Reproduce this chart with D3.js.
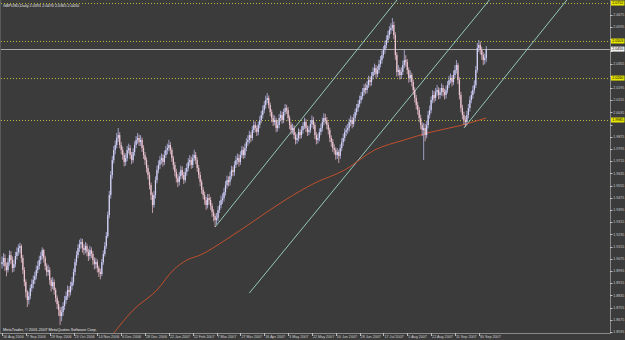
<!DOCTYPE html>
<html><head><meta charset="utf-8">
<script src="https://cdn.jsdelivr.net/npm/d3@7/dist/d3.min.js"></script>
<style>html,body{margin:0;padding:0;background:#3b3b3b;}svg{display:block}</style>
</head><body>
<svg id="chart" width="625" height="340"></svg>
<script>
const symbol = "GBPUSD,Daily";
const copyright = "MetaTrader, \u00a9 2001-2007 MetaQuotes Software Corp.";

const closes = [
1.9053,1.9080,1.9027,1.9001,1.9053,1.9099,1.9066,1.9014,1.9040,1.9093,1.9119,1.9145,1.9158,
1.9080,1.9001,1.8922,1.8856,1.8804,1.8830,1.8883,1.8909,
1.8935,1.8961,1.9001,1.9027,1.9066,1.9093,1.9132,
1.9080,1.9027,1.8988,1.9001,1.8935,1.8896,1.8922,1.8870,1.8817,1.8778,1.8738,1.8699,1.8725,
1.8765,1.8804,1.8830,1.8870,1.8856,1.8896,1.8922,
1.8988,1.9053,1.9099,1.9145,1.9171,1.9185,
1.9145,1.9132,1.9158,1.9119,1.9093,1.9132,1.9106,1.9066,1.9040,1.9053,1.9014,1.8988,1.8975,
1.9053,1.9106,1.9158,1.9224,1.9362,1.9493,1.9624,1.9722,1.9788,1.9821,1.9867,1.9886,
1.9821,1.9788,1.9755,1.9709,1.9735,1.9788,1.9801,1.9755,1.9722,1.9775,1.9821,1.9854,1.9867,1.9840,
1.9854,1.9801,1.9755,1.9722,1.9670,1.9624,1.9558,1.9493,1.9427,
1.9493,1.9591,1.9657,1.9690,1.9722,1.9735,1.9709,1.9755,1.9788,1.9801,1.9821,
1.9788,1.9735,1.9690,1.9644,1.9604,1.9578,1.9617,1.9657,1.9624,1.9591,1.9644,1.9670,1.9709,1.9722,1.9690,1.9735,1.9755,
1.9722,1.9670,1.9624,1.9578,1.9526,1.9493,1.9460,1.9427,1.9473,1.9460,1.9421,1.9381,1.9355,1.9329,1.9342,
1.9394,1.9427,1.9460,1.9473,1.9512,1.9558,1.9591,1.9578,1.9617,1.9657,1.9644,1.9690,1.9722,1.9735,1.9709,1.9755,
1.9788,1.9755,1.9801,1.9840,1.9854,1.9886,1.9867,1.9919,1.9952,1.9932,1.9906,1.9952,1.9985,2.0018,2.0050,2.0083,2.0116,2.0129,
2.0083,2.0037,1.9998,1.9972,1.9985,1.9932,1.9952,1.9998,2.0018,1.9985,2.0037,2.0063,2.0050,1.9998,1.9952,1.9919,1.9932,1.9886,1.9854,1.9867,1.9906,1.9886,
1.9919,1.9945,1.9972,1.9932,1.9906,1.9919,1.9959,1.9985,1.9952,1.9886,1.9854,1.9867,1.9906,1.9932,1.9972,1.9998,1.9985,1.9952,1.9919,1.9867,1.9840,1.9801,1.9788,1.9755,1.9775,1.9749,
1.9801,1.9840,1.9867,1.9906,1.9919,1.9932,1.9972,1.9985,1.9959,1.9998,2.0037,2.0063,2.0090,2.0116,
2.0142,2.0168,2.0195,2.0182,2.0214,2.0247,2.0234,2.0273,2.0300,2.0326,2.0287,2.0313,2.0352,2.0378,
2.0411,2.0444,2.0477,2.0510,2.0542,2.0575,2.0588,2.0608,
2.0542,2.0411,2.0300,2.0313,2.0280,2.0300,2.0346,2.0378,
2.0365,2.0313,2.0260,2.0280,2.0234,2.0182,2.0129,2.0083,2.0050,1.9998,1.9952,1.9919,1.9932,1.9886,
1.9952,2.0018,2.0050,2.0116,2.0149,2.0129,2.0168,2.0182,2.0149,2.0168,
2.0195,2.0168,2.0149,2.0182,2.0214,2.0247,2.0260,2.0234,2.0280,2.0313,2.0346,
2.0247,2.0149,2.0063,2.0018,1.9985,1.9972,
2.0018,2.0063,2.0116,2.0149,2.0182,2.0214,2.0313,2.0457,
2.0477,2.0444,2.0411,2.0378,2.0391,2.0450
];

const opens = [
1.9040,
1.9053,1.9080,1.9027,1.9001,1.9053,1.9099,1.9066,1.9014,1.9040,1.9093,1.9119,1.9145,1.9158,
1.9080,1.9001,1.8922,1.8856,1.8804,1.8830,1.8883,1.8909,
1.8935,1.8961,1.9001,1.9027,1.9066,1.9093,1.9132,
1.9080,1.9027,1.8988,1.9001,1.8935,1.8896,1.8922,1.8870,1.8817,1.8778,1.8738,1.8699,1.8725,
1.8765,1.8804,1.8830,1.8870,1.8856,1.8896,1.8922,
1.8988,1.9053,1.9099,1.9145,1.9171,1.9185,
1.9145,1.9132,1.9158,1.9119,1.9093,1.9132,1.9106,1.9066,1.9040,1.9053,1.9014,1.8988,1.8975,
1.9053,1.9106,1.9158,1.9224,1.9362,1.9493,1.9624,1.9722,1.9788,1.9821,1.9867,1.9886,
1.9821,1.9788,1.9755,1.9709,1.9735,1.9788,1.9801,1.9755,1.9722,1.9775,1.9821,1.9854,1.9867,1.9840,
1.9854,1.9801,1.9755,1.9722,1.9670,1.9624,1.9558,1.9493,1.9427,
1.9493,1.9591,1.9657,1.9690,1.9722,1.9735,1.9709,1.9755,1.9788,1.9801,1.9821,
1.9788,1.9735,1.9690,1.9644,1.9604,1.9578,1.9617,1.9657,1.9624,1.9591,1.9644,1.9670,1.9709,1.9722,1.9690,1.9735,1.9755,
1.9722,1.9670,1.9624,1.9578,1.9526,1.9493,1.9460,1.9427,1.9473,1.9460,1.9421,1.9381,1.9355,1.9329,1.9342,
1.9394,1.9427,1.9460,1.9473,1.9512,1.9558,1.9591,1.9578,1.9617,1.9657,1.9644,1.9690,1.9722,1.9735,1.9709,1.9755,
1.9788,1.9755,1.9801,1.9840,1.9854,1.9886,1.9867,1.9919,1.9952,1.9932,1.9906,1.9952,1.9985,2.0018,2.0050,2.0083,2.0116,2.0129,
2.0083,2.0037,1.9998,1.9972,1.9985,1.9932,1.9952,1.9998,2.0018,1.9985,2.0037,2.0063,2.0050,1.9998,1.9952,1.9919,1.9932,1.9886,1.9854,1.9867,1.9906,1.9886,
1.9919,1.9945,1.9972,1.9932,1.9906,1.9919,1.9959,1.9985,1.9952,1.9886,1.9854,1.9867,1.9906,1.9932,1.9972,1.9998,1.9985,1.9952,1.9919,1.9867,1.9840,1.9801,1.9788,1.9755,1.9775,1.9749,
1.9801,1.9840,1.9867,1.9906,1.9919,1.9932,1.9972,1.9985,1.9959,1.9998,2.0037,2.0063,2.0090,2.0116,
2.0142,2.0168,2.0195,2.0182,2.0214,2.0247,2.0234,2.0273,2.0300,2.0326,2.0287,2.0313,2.0352,2.0378,
2.0411,2.0444,2.0477,2.0510,2.0542,2.0575,2.0588,2.0608,
2.0542,2.0411,2.0300,2.0313,2.0280,2.0300,2.0346,2.0378,
2.0365,2.0313,2.0260,2.0280,2.0234,2.0182,2.0129,2.0083,2.0050,1.9998,1.9952,1.9919,1.9932,1.9886,
1.9952,2.0018,2.0050,2.0116,2.0149,2.0129,2.0168,2.0182,2.0149,2.0168,
2.0195,2.0168,2.0149,2.0182,2.0214,2.0247,2.0260,2.0234,2.0280,2.0313,2.0346,
2.0247,2.0149,2.0063,2.0018,1.9985,1.9972,
2.0018,2.0063,2.0116,2.0149,2.0182,2.0214,2.0313,2.0457,
2.0477,2.0444,2.0411,2.0378,2.0391
];

const highs = [
1.9090,1.9112,1.9105,1.9050,1.9080,1.9130,1.9125,1.9090,1.9070,1.9120,1.9150,1.9170,1.9180,
1.9170,1.9100,1.9020,1.8940,1.8870,1.8860,1.8905,1.8940,
1.8965,1.8990,1.9030,1.9060,1.9095,1.9120,1.9150,
1.9140,1.9095,1.9045,1.9035,1.9020,1.8950,1.8955,1.8940,1.8885,1.8835,1.8800,1.8760,1.8760,
1.8790,1.8830,1.8860,1.8900,1.8895,1.8925,1.8955,
1.9010,1.9075,1.9125,1.9170,1.9200,1.9210,
1.9205,1.9170,1.9185,1.9175,1.9140,1.9160,1.9150,1.9125,1.9085,1.9080,1.9070,1.9030,1.9010,
1.9075,1.9130,1.9185,1.9250,1.9385,1.9520,1.9650,1.9750,1.9815,1.9850,1.9900,1.9932,
1.9905,1.9840,1.9810,1.9770,1.9765,1.9815,1.9830,1.9820,1.9775,1.9800,1.9845,1.9880,1.9900,1.9890,
1.9885,1.9870,1.9820,1.9775,1.9740,1.9690,1.9645,1.9575,1.9510,
1.9520,1.9615,1.9685,1.9720,1.9750,1.9765,1.9760,1.9785,1.9815,1.9830,1.9855,
1.9840,1.9805,1.9750,1.9710,1.9665,1.9630,1.9645,1.9685,1.9680,1.9645,1.9670,1.9700,1.9735,1.9755,1.9745,1.9760,1.9790,
1.9775,1.9740,1.9690,1.9645,1.9595,1.9545,1.9515,1.9480,1.9500,1.9500,1.9480,1.9440,1.9400,1.9370,1.9375,
1.9420,1.9455,1.9490,1.9505,1.9540,1.9585,1.9620,1.9615,1.9645,1.9685,1.9680,1.9715,1.9750,1.9765,1.9760,1.9780,
1.9815,1.9810,1.9830,1.9865,1.9885,1.9915,1.9905,1.9945,1.9980,1.9975,1.9950,1.9975,2.0010,2.0045,2.0080,2.0110,2.0145,2.0162,
2.0145,2.0100,2.0055,2.0020,2.0015,2.0000,1.9980,2.0025,2.0045,2.0040,2.0060,2.0090,2.0085,2.0070,2.0015,1.9970,1.9960,1.9950,1.9905,1.9895,1.9930,1.9925,
1.9945,1.9970,2.0000,1.9990,1.9950,1.9945,1.9985,2.0015,2.0005,1.9970,1.9905,1.9895,1.9930,1.9960,2.0000,2.0030,2.0025,2.0005,1.9970,1.9935,1.9885,1.9860,1.9825,1.9805,1.9800,1.9790,
1.9825,1.9865,1.9895,1.9930,1.9950,1.9960,1.9995,2.0015,2.0005,2.0025,2.0060,2.0090,2.0115,2.0145,
2.0170,2.0195,2.0220,2.0225,2.0240,2.0275,2.0270,2.0300,2.0330,2.0355,2.0345,2.0340,2.0380,2.0405,
2.0440,2.0470,2.0505,2.0540,2.0570,2.0600,2.0620,2.0654,
2.0630,2.0560,2.0430,2.0345,2.0330,2.0330,2.0375,2.0444,
2.0410,2.0385,2.0330,2.0310,2.0295,2.0250,2.0200,2.0150,2.0105,2.0070,2.0020,1.9970,1.9965,1.9960,
1.9980,2.0045,2.0080,2.0140,2.0180,2.0175,2.0195,2.0215,2.0200,2.0195,
2.0225,2.0215,2.0190,2.0210,2.0240,2.0275,2.0290,2.0280,2.0310,2.0345,2.0378,
2.0360,2.0265,2.0170,2.0085,2.0040,2.0010,
2.0045,2.0090,2.0140,2.0175,2.0210,2.0245,2.0340,2.0490,
2.0510,2.0500,2.0465,2.0430,2.0420,2.0470
];

const lows = [
1.9010,1.9025,1.8995,1.8960,1.8985,1.9030,1.9040,1.8985,1.8990,1.9020,1.9070,1.9095,1.9110,
1.9050,1.8975,1.8895,1.8820,1.8758,1.8775,1.8810,1.8860,
1.8880,1.8910,1.8940,1.8980,1.9005,1.9040,1.9070,
1.9050,1.9000,1.8960,1.8965,1.8905,1.8860,1.8875,1.8840,1.8790,1.8745,1.8700,1.8640,1.8665,
1.8700,1.8740,1.8780,1.8805,1.8820,1.8835,1.8870,
1.8900,1.8965,1.9030,1.9080,1.9120,1.9140,
1.9115,1.9100,1.9110,1.9090,1.9060,1.9070,1.9080,1.9035,1.9005,1.9010,1.8985,1.8955,1.8940,
1.8960,1.9035,1.9090,1.9140,1.9210,1.9340,1.9470,1.9600,1.9700,1.9760,1.9800,1.9840,
1.9800,1.9760,1.9725,1.9680,1.9685,1.9715,1.9765,1.9730,1.9695,1.9705,1.9750,1.9800,1.9830,1.9815,
1.9815,1.9775,1.9730,1.9690,1.9640,1.9595,1.9530,1.9460,1.9375,
1.9410,1.9470,1.9570,1.9635,1.9665,1.9695,1.9680,1.9690,1.9735,1.9760,1.9780,
1.9760,1.9710,1.9660,1.9615,1.9575,1.9545,1.9555,1.9595,1.9600,1.9565,1.9575,1.9620,1.9650,1.9685,1.9665,1.9670,1.9715,
1.9695,1.9645,1.9600,1.9550,1.9500,1.9465,1.9430,1.9395,1.9405,1.9430,1.9395,1.9350,1.9320,1.9283,1.9300,
1.9320,1.9375,1.9405,1.9435,1.9450,1.9490,1.9535,1.9550,1.9555,1.9595,1.9615,1.9620,1.9670,1.9695,1.9680,1.9690,
1.9735,1.9730,1.9735,1.9780,1.9815,1.9830,1.9840,1.9850,1.9900,1.9905,1.9880,1.9885,1.9930,1.9965,1.9995,2.0030,2.0060,2.0095,
2.0060,2.0010,1.9970,1.9945,1.9950,1.9905,1.9910,1.9930,1.9975,1.9960,1.9965,2.0015,2.0025,1.9975,1.9925,1.9890,1.9895,1.9860,1.9825,1.9830,1.9845,1.9860,
1.9865,1.9895,1.9925,1.9905,1.9880,1.9885,1.9900,1.9935,1.9925,1.9860,1.9825,1.9830,1.9845,1.9885,1.9910,1.9950,1.9960,1.9925,1.9890,1.9840,1.9810,1.9775,1.9760,1.9725,1.9730,1.9703,
1.9730,1.9780,1.9815,1.9845,1.9880,1.9895,1.9910,1.9945,1.9930,1.9940,1.9975,2.0015,2.0040,2.0070,
2.0095,2.0120,2.0145,2.0155,2.0160,2.0195,2.0205,2.0210,2.0250,2.0280,2.0260,2.0265,2.0290,2.0330,
2.0355,2.0390,2.0420,2.0455,2.0490,2.0520,2.0550,2.0570,
2.0515,2.0380,2.0270,2.0275,2.0250,2.0255,2.0280,2.0325,
2.0335,2.0285,2.0230,2.0235,2.0205,2.0150,2.0100,2.0055,2.0020,1.9970,1.9925,1.9880,1.9722,1.9845,
1.9865,1.9930,1.9995,2.0030,2.0095,2.0100,2.0110,2.0145,2.0120,2.0125,
2.0145,2.0140,2.0120,2.0125,2.0160,2.0195,2.0225,2.0205,2.0215,2.0260,2.0290,
2.0220,2.0120,2.0035,1.9990,1.9955,1.9939,
1.9950,1.9995,2.0040,2.0095,2.0125,2.0160,2.0195,2.0295,
2.0430,2.0415,2.0380,2.0345,2.0350,2.0365
];

// 200-day moving average (bar index, value)
const maBars   = [74, 88, 104, 115, 124, 133, 150, 170, 190, 210, 230, 250, 270, 288, 306, 325];
const maValues = [1.8575, 1.8738, 1.8870, 1.9001, 1.9066, 1.9099, 1.9198, 1.9329, 1.9460, 1.9572, 1.9657, 1.9788, 1.9854, 1.9906, 1.9945, 1.9998];

// Horizontal levels (dotted yellow)
const hLevels = [2.0752, 2.0503, 2.0260, 1.9985];

// Trend lines: anchors (bar index, price)
const trendBarA   = [143, 166, 310];
const trendPriceA = [1.9283, 1.8850, 1.9932];
const trendBarB   = [264, 326, 378];
const trendPriceB = [2.0759, 2.0759, 2.0759];

// Axis labels
const priceTicks = [1.8595,1.8675,1.8755,1.8835,1.8915,1.8995,1.9075,1.9155,1.9235,1.9315,1.9395,1.9475,1.9555,1.9635,1.9715,1.9795,1.9875,1.9955,2.0035,2.0115,2.0195,2.0275,2.0355,2.0435,2.0515,2.0595,2.0675];
const dateLabels = ["16 Aug 2006","7 Sep 2006","29 Sep 2006","23 Oct 2006","14 Nov 2006","6 Dec 2006","28 Dec 2006","22 Jan 2007","12 Feb 2007","7 Mar 2007","27 Mar 2007","16 Apr 2007","3 May 2007","22 May 2007","10 Jun 2007","28 Jun 2007","17 Jul 2007","5 Aug 2007","22 Aug 2007","11 Sep 2007","30 Sep 2007"];
const dateLabelBars = [0,16,32,48,64,80,96,112,128,144,160,176,192,208,224,240,256,272,288,304,320];

// ---------------- drawing ----------------
const svg = d3.select("#chart");
const W = 625, H = 340;
const plot = {l: 1, r: 610, t: 2, b: 333};
const BG = "#3b3b3b";
const FONT = "'Liberation Sans', Arial, sans-serif";
const AXFS = 3.6;

const x = d3.scaleLinear().domain([0, 408]).range([2, 2 + 1.49 * 408]);
const y = d3.scaleLinear().domain([1.8588, 2.0759]).range([plot.b, plot.t]);

svg.append("rect").attr("width", W).attr("height", H).attr("fill", BG);

svg.append("defs").append("clipPath").attr("id", "clip")
  .append("rect").attr("x", plot.l).attr("y", 0).attr("width", plot.r - plot.l).attr("height", plot.b);

const g = svg.append("g").attr("clip-path", "url(#clip)");

const n = Math.min(closes.length, opens.length, highs.length, lows.length);
const bars = d3.range(n).map(i => ({i, o: opens[i], h: highs[i], l: lows[i], c: closes[i]}));
const last = bars[n - 1];

// horizontal dotted levels
g.selectAll("line.hl").data(hLevels).join("line")
  .attr("x1", plot.l).attr("x2", plot.r)
  .attr("y1", d => Math.round(y(d)) + 0.5).attr("y2", d => Math.round(y(d)) + 0.5)
  .attr("stroke", "#b8b840").attr("stroke-width", 1).attr("stroke-dasharray", "1,2");

// current price line
g.append("line").attr("x1", plot.l).attr("x2", plot.r)
  .attr("y1", Math.round(y(last.c)) + 0.5).attr("y2", Math.round(y(last.c)) + 0.5)
  .attr("stroke", "#a8a8a8").attr("stroke-width", 1);

// trend lines (rays to the right)
const trends = trendBarA.map((b, k) => ({b1: b, p1: trendPriceA[k], b2: trendBarB[k], p2: trendPriceB[k]}));
g.selectAll("line.tr").data(trends).join("line")
  .attr("x1", d => x(d.b1)).attr("y1", d => y(d.p1))
  .attr("x2", d => x(d.b1 + (d.b2 - d.b1) * 3)).attr("y2", d => y(d.p1 + (d.p2 - d.p1) * 3))
  .attr("stroke", "#9fd8c8").attr("stroke-width", 0.9);

// moving average
g.append("path")
  .datum(maBars.map((b, k) => [b, maValues[k]]))
  .attr("d", d3.line().x(d => x(d[0])).y(d => y(d[1])).curve(d3.curveMonotoneX))
  .attr("fill", "none").attr("stroke", "#c0502c").attr("stroke-width", 1);

// bars
const bull = "#b8b8ec", bear = "#e0b4c4";
g.selectAll("line.wick").data(bars).join("line")
  .attr("x1", d => x(d.i)).attr("x2", d => x(d.i))
  .attr("y1", d => y(d.h)).attr("y2", d => y(d.l))
  .attr("stroke", d => d.c >= d.o ? bull : bear).attr("stroke-width", 0.8);
g.selectAll("rect.body").data(bars).join("rect")
  .attr("x", d => x(d.i) - 0.6).attr("width", 1.2)
  .attr("y", d => y(Math.max(d.o, d.c)))
  .attr("height", d => Math.max(0.6, Math.abs(y(d.o) - y(d.c))))
  .attr("fill", d => d.c >= d.o ? "#d4d4f8" : "#f0c8d4");

// frame
svg.append("line").attr("x1", plot.r + 0.5).attr("x2", plot.r + 0.5).attr("y1", 0).attr("y2", plot.b + 0.5)
  .attr("stroke", "#8a8a8a");
svg.append("line").attr("x1", 0).attr("x2", plot.r + 0.5).attr("y1", plot.b + 0.5).attr("y2", plot.b + 0.5)
  .attr("stroke", "#8a8a8a");
svg.append("line").attr("x1", 0.5).attr("x2", 0.5).attr("y1", 0).attr("y2", plot.b)
  .attr("stroke", "#5a5a5a");

// price axis (tick labels hidden where a level tag covers them, as in the terminal)
const fmt = d3.format(".4f");
const tagValues = hLevels.concat([last.c]);
const visibleTicks = priceTicks.filter(v => tagValues.every(t => Math.abs(y(t) - y(v)) > 5));
const ya = svg.append("g");
ya.selectAll("line").data(priceTicks).join("line")
  .attr("x1", plot.r).attr("x2", plot.r + 2.5)
  .attr("y1", d => Math.round(y(d)) + 0.5).attr("y2", d => Math.round(y(d)) + 0.5)
  .attr("stroke", "#bdbdbd");
ya.selectAll("text").data(visibleTicks).join("text")
  .attr("x", plot.r + 3.2).attr("y", d => y(d) + 1.3)
  .attr("fill", "#d0d0d0").attr("font-family", FONT).attr("font-size", AXFS)
  .text(d => fmt(d));

// level tags
const tag = (v, fill) => {
  const yy = y(v);
  ya.append("rect").attr("x", plot.r + 1).attr("y", yy - 2.5).attr("width", 13.5).attr("height", 5).attr("fill", fill);
  ya.append("text").attr("x", plot.r + 2.2).attr("y", yy + 1.3).attr("fill", "#000")
    .attr("font-family", FONT).attr("font-size", AXFS).text(fmt(v));
};
hLevels.forEach(v => tag(v, "#e6e600"));
tag(last.c, "#f2f2f2");

// date axis
const xa = svg.append("g");
xa.selectAll("line").data(dateLabelBars).join("line")
  .attr("x1", d => Math.round(x(d)) + 0.5).attr("x2", d => Math.round(x(d)) + 0.5)
  .attr("y1", plot.b).attr("y2", plot.b + 3)
  .attr("stroke", "#bdbdbd");
xa.selectAll("text").data(dateLabels).join("text")
  .attr("x", (d, k) => x(dateLabelBars[k]) + 1).attr("y", 338.4)
  .attr("fill", "#d0d0d0").attr("font-family", FONT).attr("font-size", 3.7)
  .text(d => d);

// header and footer text
svg.append("text").attr("x", 3).attr("y", 7)
  .attr("fill", "#e6e6e6").attr("font-family", FONT).attr("font-size", 3.8)
  .text(`${symbol}  ${fmt(last.o)} ${fmt(last.h)} ${fmt(last.l)} ${fmt(last.c)}`);
svg.append("text").attr("x", 3).attr("y", 330.5)
  .attr("fill", "#e6e6e6").attr("font-family", FONT).attr("font-size", 3.9)
  .text(copyright);
</script>
</body></html>
